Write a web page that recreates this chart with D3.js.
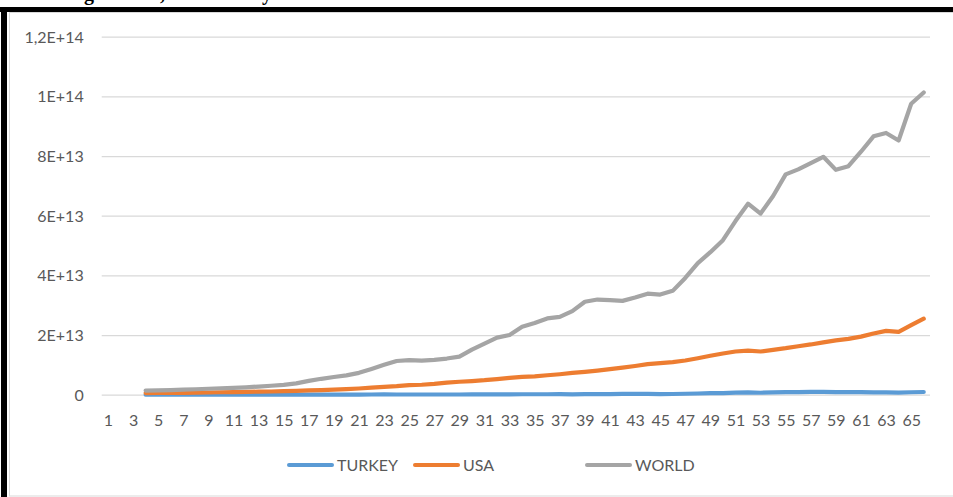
<!DOCTYPE html>
<html>
<head>
<meta charset="utf-8">
<script src="https://cdn.jsdelivr.net/npm/d3@7"></script>
<style>
  html, body { margin: 0; padding: 0; background: #fff; }
  svg { display: block; }
</style>
</head>
<body>
<svg id="chart" width="953" height="497"></svg>
<script>
// Categories 1..66; the series run from category 4 (1960) to 66 (2022).
const categories = d3.range(1, 67);
const firstCategory = 4;

// GDP, current US$
const turkey = [
  14.0e9, 7.0e9, 8.9e9, 10.2e9, 11.2e9, 11.9e9, 14.1e9, 15.7e9, 17.5e9, 19.5e9,
  16.9e9, 16.4e9, 20.4e9, 25.7e9, 35.6e9, 44.6e9, 51.3e9, 58.7e9, 65.1e9, 89.4e9,
  68.8e9, 71.0e9, 64.5e9, 61.7e9, 60.0e9, 67.2e9, 75.7e9, 87.2e9, 90.9e9, 107.1e9,
  150.7e9, 150.0e9, 158.5e9, 180.2e9, 130.7e9, 169.5e9, 181.5e9, 189.8e9, 276.0e9, 256.4e9,
  274.3e9, 201.8e9, 240.3e9, 314.6e9, 408.9e9, 506.3e9, 557.1e9, 681.3e9, 770.5e9, 649.3e9,
  777.0e9, 838.8e9, 880.6e9, 957.8e9, 939.0e9, 864.3e9, 869.7e9, 859.0e9, 778.5e9, 761.0e9,
  720.3e9, 819.0e9, 906.0e9
];
const usa = [
  0.543e12, 0.563e12, 0.605e12, 0.639e12, 0.686e12, 0.744e12, 0.815e12, 0.862e12, 0.943e12, 1.020e12,
  1.073e12, 1.165e12, 1.279e12, 1.425e12, 1.545e12, 1.684e12, 1.873e12, 2.082e12, 2.352e12, 2.627e12,
  2.857e12, 3.207e12, 3.344e12, 3.634e12, 4.037e12, 4.339e12, 4.579e12, 4.855e12, 5.236e12, 5.641e12,
  5.963e12, 6.158e12, 6.520e12, 6.859e12, 7.287e12, 7.640e12, 8.073e12, 8.578e12, 9.063e12, 9.631e12,
  10.251e12, 10.582e12, 10.930e12, 11.457e12, 12.217e12, 13.039e12, 13.816e12, 14.475e12, 14.770e12, 14.478e12,
  15.049e12, 15.600e12, 16.254e12, 16.843e12, 17.551e12, 18.206e12, 18.695e12, 19.478e12, 20.533e12, 21.381e12,
  21.061e12, 23.315e12, 25.463e12
];
const world = [
  1.38e12, 1.45e12, 1.55e12, 1.67e12, 1.83e12, 1.99e12, 2.16e12, 2.30e12, 2.48e12, 2.73e12,
  3.00e12, 3.29e12, 3.79e12, 4.62e12, 5.33e12, 5.94e12, 6.46e12, 7.32e12, 8.62e12, 10.00e12,
  11.29e12, 11.61e12, 11.40e12, 11.68e12, 12.12e12, 12.74e12, 15.10e12, 17.14e12, 19.14e12, 20.02e12,
  22.77e12, 24.03e12, 25.57e12, 26.06e12, 28.01e12, 31.14e12, 31.90e12, 31.68e12, 31.45e12, 32.56e12,
  33.86e12, 33.57e12, 34.81e12, 39.13e12, 44.12e12, 47.78e12, 51.80e12, 58.21e12, 64.03e12, 60.71e12,
  66.60e12, 73.86e12, 75.52e12, 77.64e12, 79.74e12, 75.37e12, 76.58e12, 81.45e12, 86.61e12, 87.73e12,
  85.22e12, 97.53e12, 101.3e12
];

const seriesNames = ["TURKEY", "USA", "WORLD"];
const seriesColors = ["#5B9BD5", "#ED7D31", "#A5A5A5"];

const yTickValues = [0, 2e13, 4e13, 6e13, 8e13, 1e14, 1.2e14];
const yTickLabels = ["0", "2E+13", "4E+13", "6E+13", "8E+13", "1E+14", "1,2E+14"];

const svg = d3.select("#chart");
const font = "Lato, 'Open Sans', sans-serif";
const textColor = "#595959";

// Frame: thin grey chart border, heavy black page rule on top and left
svg.append("rect").attr("x", 9.5).attr("y", 12.5).attr("width", 960).attr("height", 483.5)
  .attr("fill", "none").attr("stroke", "#d9d9d9").attr("stroke-width", 1);
svg.append("rect").attr("x", 0).attr("y", 7).attr("width", 953).attr("height", 5).attr("fill", "#000");
svg.append("rect").attr("x", 1).attr("y", 7).attr("width", 6).attr("height", 490).attr("fill", "#000");

// Heading line above the frame (only its descenders fall inside the page)
const heading = svg.append("g")
  .attr("font-family", "'Liberation Serif', 'Times New Roman', serif")
  .attr("font-weight", "bold").attr("font-size", 20).attr("fill", "#000");
[["g", 84], [",", 160], ["y", 262]].forEach(([ch, x]) => {
  heading.append("text").attr("x", x).attr("y", -0.5).text(ch);
});

const x = d3.scalePoint().domain(categories).range([101.7, 930]).padding(0.5);
const y = d3.scaleLinear().domain([0, 1.2e14]).range([394.7, 36.7]);

// Horizontal gridlines + value labels
const yAxis = d3.axisLeft(y)
  .tickValues(yTickValues)
  .tickFormat((d, i) => yTickLabels[i])
  .tickSize(-(930 - 101.7))
  .tickPadding(18);
const gy = svg.append("g").attr("transform", "translate(101.7,0)").call(yAxis);
gy.select(".domain").remove();
gy.selectAll(".tick line").attr("stroke", "#d9d9d9").attr("stroke-width", 1.3);
gy.selectAll(".tick text").attr("font-family", font).attr("font-size", 16)
  .attr("fill", textColor).attr("dy", "0.34em");

// Category labels (every other category)
const xAxis = d3.axisBottom(x)
  .tickValues(categories.filter(c => c % 2 === 1))
  .tickSize(0)
  .tickPadding(0);
const gx = svg.append("g").attr("transform", "translate(0,394.7)").call(xAxis);
gx.select(".domain").remove();
gx.selectAll(".tick text").attr("font-family", font).attr("font-size", 16)
  .attr("fill", textColor).attr("dy", null).attr("y", 31);

// Series lines
const allSeries = [turkey, usa, world];
const line = d3.line()
  .x((d, i) => x(firstCategory + i))
  .y(d => y(d));
allSeries.forEach((vals, k) => {
  svg.append("path").datum(vals)
    .attr("fill", "none")
    .attr("stroke", seriesColors[k])
    .attr("stroke-width", 4.2)
    .attr("stroke-linejoin", "round")
    .attr("stroke-linecap", "round")
    .attr("d", line);
});

// Legend
const legendX = [289, 415, 587];
const legend = svg.append("g");
seriesNames.forEach((name, k) => {
  const g = legend.append("g").attr("transform", `translate(${legendX[k]},465)`);
  g.append("line").attr("x1", 0).attr("x2", 43).attr("y1", 0).attr("y2", 0)
    .attr("stroke", seriesColors[k]).attr("stroke-width", 4).attr("stroke-linecap", "round");
  g.append("text").attr("x", 48).attr("y", 0).attr("dy", "0.35em")
    .attr("font-family", font).attr("font-size", 16).attr("fill", textColor).text(name);
});
</script>
</body>
</html>
